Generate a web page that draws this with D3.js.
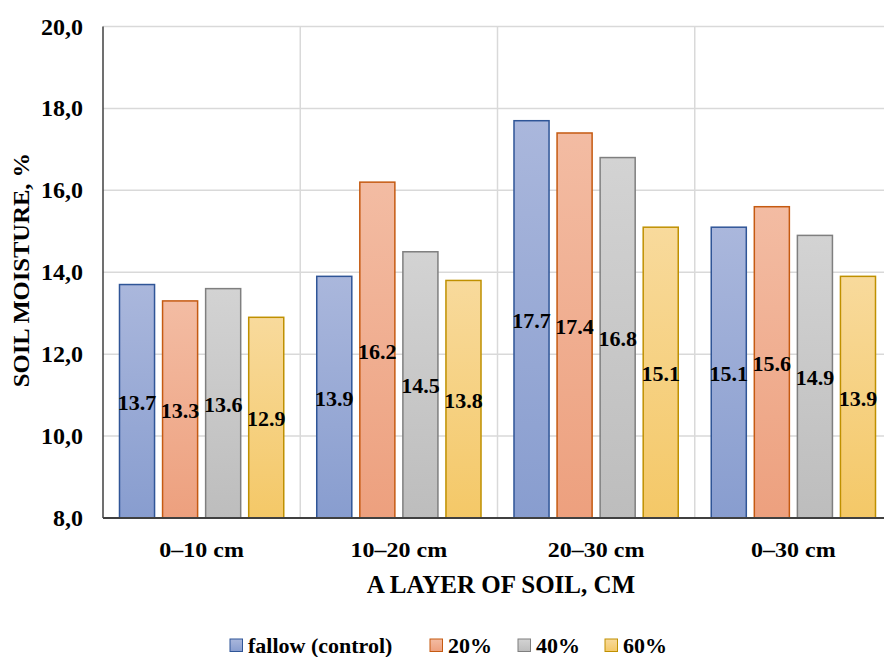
<!DOCTYPE html>
<html><head><meta charset="utf-8">
<script src="https://cdn.jsdelivr.net/npm/d3@7"></script>
<style>body{margin:0;background:#fff}svg{display:block}text{font-family:"Liberation Serif","Times New Roman",serif;font-weight:bold;fill:#000}</style>
</head><body>
<svg id="c" width="884" height="657"></svg>
<script>
const categories = ["0–10 cm","10–20 cm","20–30 cm","0–30 cm"];
const seriesNames = ["fallow (control)","20%","40%","60%"];
const fallow = [13.7,13.9,17.7,15.1];
const p20 = [13.3,16.2,17.4,15.6];
const p40 = [13.6,14.5,16.8,14.9];
const p60 = [12.9,13.8,15.1,13.9];
const yTicks = [8,10,12,14,16,18,20];

const seriesVals = [fallow,p20,p40,p60];
const colors = [
  {top:"#aab7dc",bot:"#889dcf",stroke:"#2f5597"},
  {top:"#f3bca3",bot:"#eda07e",stroke:"#c55a11"},
  {top:"#d3d3d3",bot:"#bdbdbd",stroke:"#7f7f7f"},
  {top:"#f8da9c",bot:"#f4c867",stroke:"#bf9000"}
];
const svg = d3.select("#c");
const m = {l:103,r:892,t:26.5,b:518};
const x0 = d3.scaleBand().domain(categories).range([m.l,m.r]).paddingInner(0).paddingOuter(0);
const x1 = d3.scaleBand().domain(d3.range(4)).range([0,x0.bandwidth()]).paddingInner(0.186).paddingOuter(0.383);
const y = d3.scaleLinear().domain([8,20]).range([m.b,m.t]);

const defs = svg.append("defs");
colors.forEach((c,i)=>{
  const g = defs.append("linearGradient").attr("id","g"+i).attr("x1",0).attr("y1",0).attr("x2",0).attr("y2",1);
  g.append("stop").attr("offset","0%").attr("stop-color",c.top);
  g.append("stop").attr("offset","100%").attr("stop-color",c.bot);
});

// gridlines
svg.append("g").selectAll("line").data(yTicks.slice(1)).join("line")
  .attr("x1",m.l).attr("x2",m.r).attr("y1",d=>y(d)).attr("y2",d=>y(d))
  .attr("stroke","#d9d9d9").attr("stroke-width",1.5);
svg.append("g").selectAll("line").data(categories.slice(1)).join("line")
  .attr("x1",d=>x0(d)).attr("x2",d=>x0(d))
  .attr("y1",m.t).attr("y2",m.b).attr("stroke","#d9d9d9").attr("stroke-width",1.5);

// bars
const groups = svg.append("g").selectAll("g").data(categories).join("g")
  .attr("transform",d=>`translate(${x0(d)},0)`);
groups.each(function(cat,ci){
  const g = d3.select(this);
  seriesVals.forEach((vals,si)=>{
    const v = vals[ci];
    g.append("rect").attr("x",x1(si)).attr("y",y(v)).attr("width",x1.bandwidth()).attr("height",y(8)-y(v))
      .attr("fill",`url(#g${si})`).attr("stroke",colors[si].stroke).attr("stroke-width",1.5);
    g.append("text").attr("x",x1(si)+x1.bandwidth()/2).attr("y",(y(v)+y(8))/2+1)
      .attr("text-anchor","middle").attr("dominant-baseline","central")
      .attr("font-size",22)
      .text(v.toFixed(1));
  });
});

// axes lines
svg.append("line").attr("x1",m.l).attr("x2",m.l).attr("y1",m.t).attr("y2",m.b).attr("stroke","#404040").attr("stroke-width",1.5);
svg.append("line").attr("x1",m.l).attr("x2",m.r).attr("y1",m.b).attr("y2",m.b).attr("stroke","#404040").attr("stroke-width",2);

// y tick labels
svg.append("g").selectAll("text").data(yTicks).join("text")
  .attr("x",83).attr("y",d=>y(d)).attr("text-anchor","end").attr("dominant-baseline","central")
  .attr("font-size",24)
  .text(d=>d.toFixed(1).replace(".",","));

// x category labels
svg.append("g").selectAll("text").data(categories).join("text")
  .attr("transform",d=>`translate(${x0(d)+x0.bandwidth()/2},549) scale(1.09,1)`)
  .attr("text-anchor","middle").attr("dominant-baseline","central")
  .attr("font-size",22)
  .text(d=>d);

// axis titles
svg.append("text").attr("transform","translate(501,584)")
  .attr("text-anchor","middle").attr("dominant-baseline","central")
  .attr("font-size",25)
  .text("A LAYER OF SOIL, CM");
svg.append("text").attr("transform","translate(21,270) rotate(-90) scale(1.07,1)")
  .attr("text-anchor","middle").attr("dominant-baseline","central")
  .attr("font-size",23)
  .text("SOIL MOISTURE, %");

// legend
const legX = [230,430,518,605];
const leg = svg.append("g");
seriesNames.forEach((n,i)=>{
  leg.append("rect").attr("x",legX[i]).attr("y",639).attr("width",12.5).attr("height",12.5)
    .attr("fill",`url(#g${i})`).attr("stroke",colors[i].stroke).attr("stroke-width",1);
  leg.append("text").attr("x",legX[i]+18).attr("y",645).attr("dominant-baseline","central")
    .attr("font-size",22).text(n);
});
</script>
</body></html>
